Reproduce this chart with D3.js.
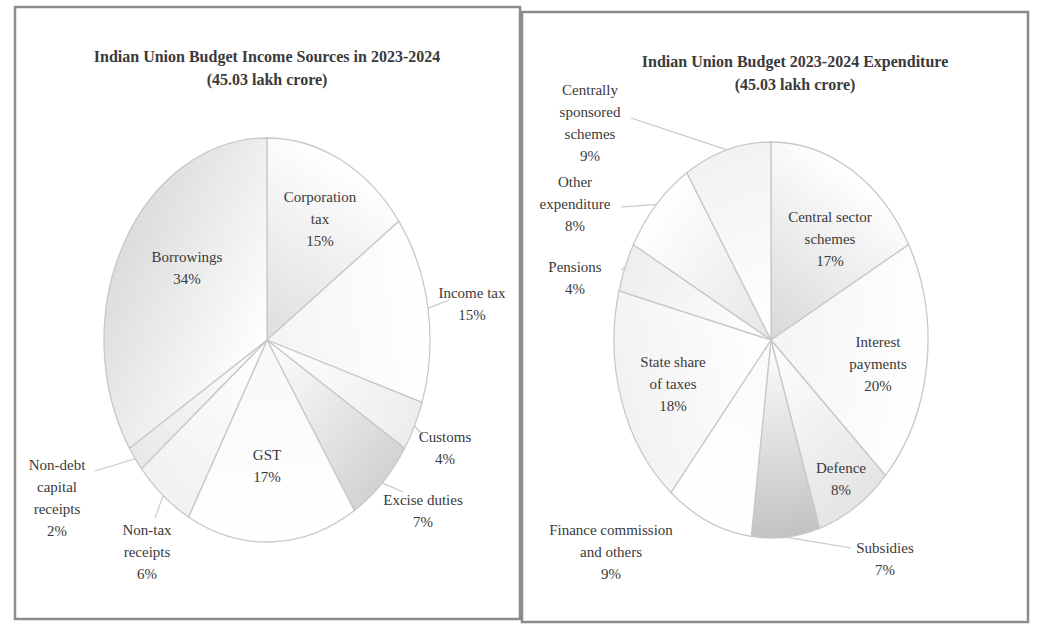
<!DOCTYPE html>
<html>
<head>
<meta charset="utf-8">
<script src="https://cdn.jsdelivr.net/npm/d3@7"></script>
<style>
body { margin: 0; background: white; }
text { font-family: "Liberation Serif", "DejaVu Serif", serif; fill: #3a3a3a; }
.title { font-size: 16px; font-weight: bold; }
.label { font-size: 15px; }
</style>
</head>
<body>
<script>
// income sources, 2023-2024 (45.03 lakh crore), clockwise from 12 o'clock
const incomeNames = ["Corporation tax", "Income tax", "Customs", "Excise duties", "GST",
                     "Non-tax receipts", "Non-debt capital receipts", "Borrowings"];
const incomeShares = [15, 15, 4, 7, 17, 6, 2, 34];

// expenditure, 2023-2024 (45.03 lakh crore)
const spendNames = ["Central sector schemes", "Interest payments", "Defence", "Subsidies",
                    "Finance commission and others", "State share of taxes", "Pensions",
                    "Other expenditure", "Centrally sponsored schemes"];
const spendShares = [17, 20, 8, 7, 9, 18, 4, 8, 9];

const incomeTitle = ["Indian Union Budget Income Sources in 2023-2024", "(45.03 lakh crore)"];
const spendTitle = ["Indian Union Budget 2023-2024 Expenditure", "(45.03 lakh crore)"];

// how the labels break and where they sit (offset from pie centre)
const incomeLayout = {
  "Corporation tax":           {lines: ["Corporation", "tax"], x: 53, y: -143},
  "Income tax":                {lines: ["Income tax"], x: 205, y: -47, lead: [182, -40]},
  "Customs":                   {lines: ["Customs"], x: 178, y: 97, lead: [156, 95]},
  "Excise duties":             {lines: ["Excise duties"], x: 156, y: 160, lead: [136, 152]},
  "GST":                       {lines: ["GST"], x: 0, y: 115},
  "Non-tax receipts":          {lines: ["Non-tax", "receipts"], x: -120, y: 190, lead: [-112, 178]},
  "Non-debt capital receipts": {lines: ["Non-debt", "capital", "receipts"], x: -210, y: 125, lead: [-172, 131]},
  "Borrowings":                {lines: ["Borrowings"], x: -80, y: -83}
};
const spendLayout = {
  "Central sector schemes":        {lines: ["Central sector", "schemes"], x: 59, y: -123},
  "Interest payments":             {lines: ["Interest", "payments"], x: 107, y: 2},
  "Defence":                       {lines: ["Defence"], x: 70, y: 128},
  "Subsidies":                     {lines: ["Subsidies"], x: 114, y: 208, lead: [80, 208]},
  "Finance commission and others": {lines: ["Finance commission", "and others"], x: -160, y: 190},
  "State share of taxes":          {lines: ["State share", "of taxes"], x: -98, y: 22},
  "Pensions":                      {lines: ["Pensions"], x: -196, y: -73, lead: [-150, -70]},
  "Other expenditure":             {lines: ["Other", "expenditure"], x: -196, y: -158, lead: [-150, -133]},
  "Centrally sponsored schemes":   {lines: ["Centrally", "sponsored", "schemes"], x: -181, y: -250, lead: [-140, -222]}
};

// grey of each slice's gradient, and whether it darkens toward the centre
const incomeShade = {
  "Corporation tax": ["#dedede", "in"], "Income tax": ["#f4f4f4", "in"], "Customs": ["#ededed", "out"],
  "Excise duties": ["#d2d2d2", "out"], "GST": ["#f8f8f8", "in"], "Non-tax receipts": ["#f1f1f1", "out"],
  "Non-debt capital receipts": ["#e8e8e8", "out"], "Borrowings": ["#dcdcdc", "out"]
};
const spendShade = {
  "Central sector schemes": ["#d8d8d8", "in"], "Interest payments": ["#f4f4f4", "in"],
  "Defence": ["#e4e4e4", "out"], "Subsidies": ["#c2c2c2", "out"],
  "Finance commission and others": ["#fafafa", "in"], "State share of taxes": ["#f2f2f2", "out"],
  "Pensions": ["#eeeeee", "out"], "Other expenditure": ["#e6e6e6", "in"],
  "Centrally sponsored schemes": ["#f2f2f2", "out"]
};

const W = 1038, H = 628;
const svg = d3.select("body").append("svg").attr("width", W).attr("height", H);
const defs = svg.append("defs");

// panel frames
svg.append("rect").attr("x", 15).attr("y", 7).attr("width", 505).attr("height", 612)
   .attr("fill", "none").attr("stroke", "#8c8c8c").attr("stroke-width", 2.5);
svg.append("rect").attr("x", 522).attr("y", 12).attr("width", 506).attr("height", 610)
   .attr("fill", "none").attr("stroke", "#8c8c8c").attr("stroke-width", 2.5);

function drawPie(opts) {
  const {names, shares, title, layout, shade, cx, cy, rx, ry, titleX, titleY, key} = opts;
  const data = names.map((n, i) => ({name: n, value: shares[i]}));
  const pie = d3.pie().sort(null).value(d => d.value);
  const arcs = pie(data);
  const arc = d3.arc().innerRadius(0).outerRadius(ry);
  const edge = d3.arc().innerRadius(ry).outerRadius(ry);
  const sx = rx / ry;

  const g = svg.append("g").attr("transform", `translate(${cx},${cy})`);

  const titleText = g.append("text").attr("class", "title").attr("text-anchor", "middle")
    .attr("transform", `translate(${titleX - cx},${titleY - cy})`);
  title.forEach((t, i) => titleText.append("tspan").attr("x", 0).attr("dy", i ? 23 : 0).text(t));

  const pg = g.append("g").attr("transform", `scale(${sx},1)`);

  arcs.forEach((d, i) => {
    const mid = (d.startAngle + d.endAngle) / 2;
    const [tone, dir] = shade[d.data.name];
    const grad = defs.append("linearGradient").attr("id", `${key}-g${i}`)
      .attr("gradientUnits", "userSpaceOnUse")
      .attr("x1", 0).attr("y1", 0)
      .attr("x2", Math.sin(mid) * ry).attr("y2", -Math.cos(mid) * ry);
    grad.append("stop").attr("offset", "0%").attr("stop-color", dir === "in" ? tone : "#ffffff");
    grad.append("stop").attr("offset", "100%").attr("stop-color", dir === "in" ? "#ffffff" : tone);
  });

  pg.selectAll("path").data(arcs).join("path")
    .attr("d", arc)
    .attr("fill", (d, i) => `url(#${key}-g${i})`)
    .attr("stroke", "#c8c8c8")
    .attr("stroke-width", 1.3)
    .attr("vector-effect", "non-scaling-stroke");

  // leader lines for labels outside the pie
  arcs.forEach(d => {
    const L = layout[d.data.name];
    if (!L.lead) return;
    const [ex, ey] = edge.centroid(d);
    g.append("line")
      .attr("x1", ex * sx).attr("y1", ey)
      .attr("x2", L.lead[0]).attr("y2", L.lead[1])
      .attr("stroke", "#c8c8c8").attr("stroke-width", 1.2);
  });

  arcs.forEach(d => {
    const L = layout[d.data.name];
    const t = g.append("text").attr("class", "label").attr("text-anchor", "middle")
      .attr("transform", `translate(${L.x},${L.y + 5})`);
    L.lines.concat([`${d.data.value}%`]).forEach((s, i) =>
      t.append("tspan").attr("x", 0).attr("dy", i ? 22 : 0).text(s));
  });
}

drawPie({names: incomeNames, shares: incomeShares, title: incomeTitle, layout: incomeLayout,
         shade: incomeShade, cx: 267, cy: 340, rx: 163, ry: 202, titleX: 267, titleY: 62, key: "inc"});
drawPie({names: spendNames, shares: spendShares, title: spendTitle, layout: spendLayout,
         shade: spendShade, cx: 771, cy: 340, rx: 157, ry: 198, titleX: 795, titleY: 67, key: "exp"});
</script>
</body>
</html>
